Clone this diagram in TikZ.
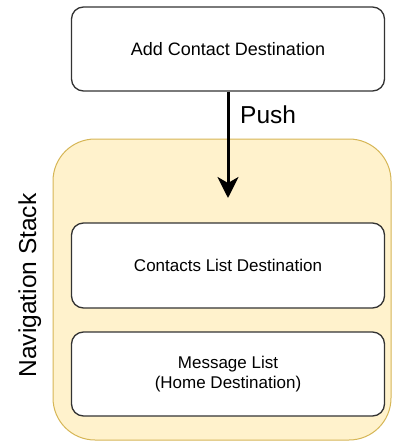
\documentclass[tikz,border=0pt]{standalone}
\usepackage{fontspec}
\setmainfont{Liberation Sans}
\usetikzlibrary{arrows.meta}
\definecolor{stackfill}{HTML}{FFF2CC}
\definecolor{stackdraw}{HTML}{D6B656}
\definecolor{boxdraw}{HTML}{333333}
\tikzset{
  destbox/.style={draw=boxdraw, fill=white, line width=1.3pt, rounded corners=12pt,
    minimum width=313pt, minimum height=84pt, inner sep=0pt, align=center,
    font=\fontsize{17}{20.5}\selectfont},
  stackbox/.style={draw=stackdraw, fill=stackfill, line width=1pt, rounded corners=42pt,
    minimum width=338pt, minimum height=301pt, inner sep=0pt},
  pusharrow/.style={line width=3pt, -{Stealth[length=21pt, width=21pt, inset=6pt]}},
  biglabel/.style={inner sep=0pt, font=\fontsize{24.5}{29}\selectfont},
}
\begin{document}
\begin{tikzpicture}[x=1pt, y=-1pt]
\useasboundingbox (0,0) rectangle (392,445);
\node[stackbox] (stack) at (222,289.5) {};
\node[destbox, font=\fontsize{18}{21.6}\selectfont] (add) at (228,49) {Add Contact Destination};
\node[destbox, minimum height=85pt] (contacts) at (228,265.5) {Contacts List Destination};
\node[destbox] (message) at (228,374) {Message List\\(Home Destination)};
\coordinate (tip) at (228,198);
\draw[pusharrow] (add.south) -- (tip);
\node[biglabel, anchor=base west] (push) at (240,123) {Push};
\node[biglabel, rotate=90, anchor=base] (navlabel) at (36,285.5) {Navigation Stack};
\end{tikzpicture}
\end{document}
